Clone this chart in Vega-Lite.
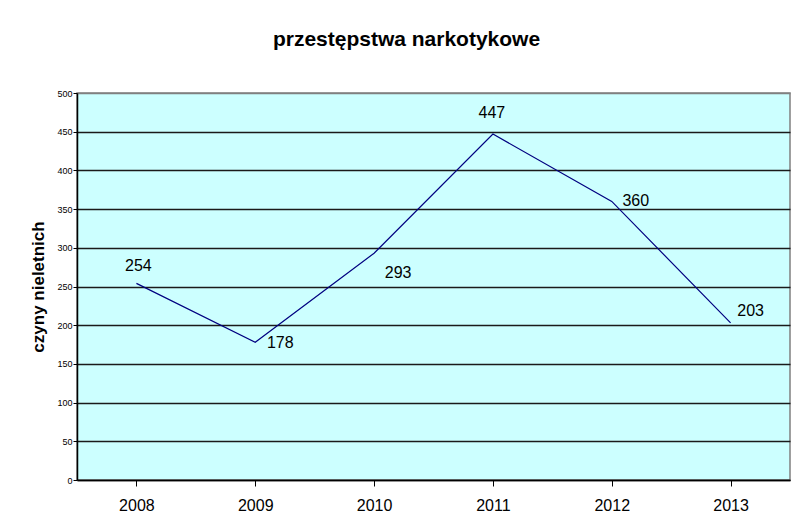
{
  "$schema": "https://vega.github.io/schema/vega-lite/v6.json",
  "autosize": {"type": "none"},
  "width": 713,
  "height": 387,
  "padding": {"left": 77, "top": 93, "right": 1, "bottom": 46},
  "background": "white",
  "title": {
    "text": "przestępstwa narkotykowe",
    "font": "Liberation Sans",
    "fontSize": 21,
    "fontWeight": "bold",
    "color": "#000000",
    "anchor": "middle",
    "dx": -27,
    "offset": 39
  },
  "config": {
    "view": {"fill": "#CCFFFF", "stroke": "#808080", "strokeWidth": 1.5},
    "font": "Liberation Sans"
  },
  "data": {
    "values": [
      {"rok": "2008", "czyny": 254},
      {"rok": "2009", "czyny": 178},
      {"rok": "2010", "czyny": 293},
      {"rok": "2011", "czyny": 447},
      {"rok": "2012", "czyny": 360},
      {"rok": "2013", "czyny": 203}
    ]
  },
  "encoding": {
    "x": {
      "field": "rok",
      "type": "ordinal",
      "scale": {"paddingInner": 0, "paddingOuter": 0},
      "axis": {
        "title": null,
        "labelAngle": 0,
        "labelFontSize": 16,
        "labelColor": "#000000",
        "labelPadding": 11,
        "tickSize": 6,
        "tickColor": "#000000",
        "tickWidth": 1,
        "bandPosition": 0,
        "domainColor": "#000000",
        "domainWidth": 1.5,
        "grid": false
      }
    },
    "y": {
      "field": "czyny",
      "type": "quantitative",
      "scale": {"domain": [0, 500], "nice": false},
      "axis": {
        "title": "czyny nieletnich",
        "titleFontSize": 17,
        "titleFontWeight": "bold",
        "titleColor": "#000000",
        "titlePadding": 9,
        "values": [0, 50, 100, 150, 200, 250, 300, 350, 400, 450, 500],
        "labelFontSize": 9,
        "labelColor": "#000000",
        "labelPadding": 1,
        "tickSize": 4,
        "tickColor": "#000000",
        "domainColor": "#000000",
        "domainWidth": 1.5,
        "grid": true,
        "gridColor": {"condition": {"test": "datum.value === 500", "value": "#808080"}, "value": "#1a1a1a"},
        "gridWidth": 1.3
      }
    }
  },
  "layer": [
    {"mark": {"type": "line", "color": "#000080", "strokeWidth": 1.2}},
    {"transform": [{"filter": "datum.rok === '2008'"}], "mark": {"type": "text", "fontSize": 16, "color": "#000000", "dx": 2, "dy": -17}, "encoding": {"text": {"field": "czyny"}}},
    {"transform": [{"filter": "datum.rok === '2009'"}], "mark": {"type": "text", "fontSize": 16, "color": "#000000", "dx": 25, "dy": 1}, "encoding": {"text": {"field": "czyny"}}},
    {"transform": [{"filter": "datum.rok === '2010'"}], "mark": {"type": "text", "fontSize": 16, "color": "#000000", "dx": 24, "dy": 20}, "encoding": {"text": {"field": "czyny"}}},
    {"transform": [{"filter": "datum.rok === '2011'"}], "mark": {"type": "text", "fontSize": 16, "color": "#000000", "dx": -1, "dy": -21}, "encoding": {"text": {"field": "czyny"}}},
    {"transform": [{"filter": "datum.rok === '2012'"}], "mark": {"type": "text", "fontSize": 16, "color": "#000000", "dx": 24, "dy": 0}, "encoding": {"text": {"field": "czyny"}}},
    {"transform": [{"filter": "datum.rok === '2013'"}], "mark": {"type": "text", "fontSize": 16, "color": "#000000", "dx": 20, "dy": -12}, "encoding": {"text": {"field": "czyny"}}}
  ]
}
